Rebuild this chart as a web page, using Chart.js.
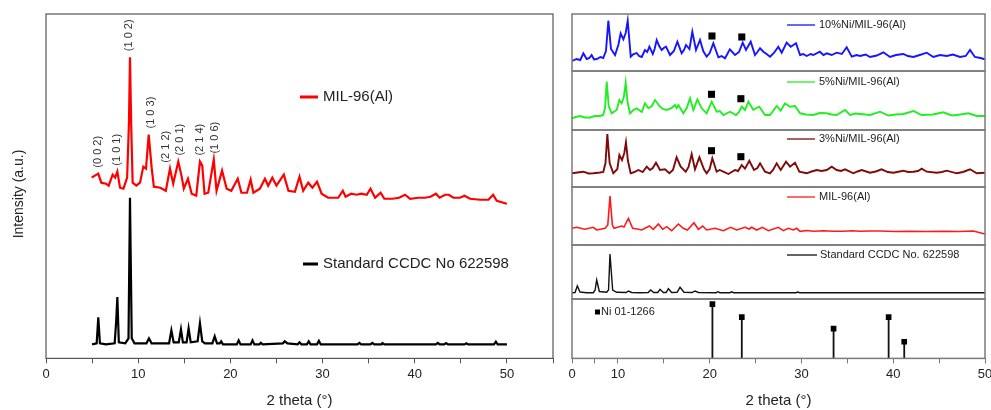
<!DOCTYPE html>
<html>
<head>
<meta charset="utf-8">
<script src="https://cdn.jsdelivr.net/npm/chart.js@4.4.1/dist/chart.umd.min.js"></script>
<style>
  html, body { margin: 0; padding: 0; background: #fff; overflow: hidden; width: 991px; height: 410px; }
  canvas { position: absolute; }
</style>
</head>
<body>
<canvas id="left-chart" width="560" height="410" style="left:0;top:0"></canvas>
<canvas id="panel-10ni" width="440" height="59" style="left:560px;top:13px"></canvas>
<canvas id="panel-5ni" width="440" height="61" style="left:560px;top:70px"></canvas>
<canvas id="panel-3ni" width="440" height="59" style="left:560px;top:129px"></canvas>
<canvas id="panel-mil" width="440" height="60" style="left:560px;top:186px"></canvas>
<canvas id="panel-ccdc" width="440" height="56" style="left:560px;top:244px"></canvas>
<canvas id="panel-ni" width="440" height="112" style="left:560px;top:298px"></canvas>
<script>
// ---- left panel: MIL-96(Al) vs simulated pattern, [2theta, intensity] ----
const mil96Pattern = [
  [4.95,180],[5.3,182],[5.67,184],[6.0,175],[6.5,174],[6.8,172],[7.23,183],[7.5,180],[7.74,186],
  [8.03,170],[8.4,169],[8.8,180],[9.0,235],[9.11,300],[9.25,230],[9.4,175],[9.8,172],[10.2,175],
  [10.56,191],[10.85,189],[11.14,223],[11.46,190],[11.7,171],[12.4,170],[13.0,167],[13.45,189],
  [13.8,174],[14.35,196],[14.7,182],[14.95,169],[15.4,179],[15.8,164],[16.3,162],[16.7,196],
  [16.95,192],[17.2,164],[17.6,165],[18.2,198],[18.5,167],[19.1,187],[19.6,169],[20.1,167],
  [20.8,179],[21.2,165],[21.8,165],[22.2,178],[22.5,165],[23.2,169],[23.75,179],[24.1,172],
  [24.55,180],[25.0,172],[25.8,183],[26.3,167],[27.0,166],[27.5,181],[27.9,167],[28.45,175],
  [28.9,170],[29.4,176],[29.9,164],[30.6,160],[31.7,160],[32.2,167],[32.5,161],[33.1,164],
  [33.7,163],[34.2,164],[34.8,163],[35.2,169],[35.7,160],[36.3,165],[36.7,159],[37.6,159],
  [38.3,160],[38.95,163],[39.5,159],[40.4,160],[41.1,160],[41.7,161],[42.3,164],[42.7,160],
  [43.3,163],[43.7,163],[44.2,160],[44.9,160],[45.4,162],[46.0,159],[47.1,158],[48.0,158],
  [48.5,163],[48.9,157],[50.0,154]
];
const ccdcPattern = [
  [5.0,14],[5.5,15],[5.67,41],[5.85,15],[6.5,14],[7.45,15],[7.62,38],[7.74,61],[7.9,16],[8.6,15],
  [8.95,20],[9.11,160],[9.3,20],[9.6,15],[10.9,15],[11.17,20],[11.45,15],[13.35,15],[13.6,28],
  [13.85,16],[14.4,16],[14.64,29],[14.85,16],[15.25,16],[15.47,30],[15.7,16],[16.45,17],[16.7,35],
  [16.95,17],[17.25,15],[18.05,15],[18.3,22],[18.55,15],[18.85,15],[19.0,17],[19.2,14],[20.7,14],
  [20.9,18],[21.1,14],[22.2,14],[22.4,18],[22.6,14],[23.15,14],[23.3,15.5],[23.5,14],[25.7,15],
  [25.9,17],[26.2,15],[27.3,14],[27.5,16],[27.7,14],[28.3,14],[28.5,17],[28.7,14],[29.4,14],
  [29.6,17.5],[29.8,14],[33.8,14],[34.0,15.5],[34.2,14],[35.2,14],[35.4,15.5],[35.6,14],
  [36.4,14],[36.5,15.3],[36.7,14],[42.3,14],[42.5,15.5],[42.7,14],[43.2,14],[43.4,15.3],
  [43.6,14],[45.4,14],[45.6,15],[45.8,14],[48.6,14],[48.8,16.7],[49.0,14],[50.0,14]
];
const hklLabels = ['(0 0 2)', '(1 0 1)', '(1 0 2)', '(1 0 3)', '(2 1 2)', '(2 0 1)', '(2 1 4)', '(1 0 6)'];
const hklTheta = [5.6, 7.67, 9.05, 11.4, 13.0, 14.5, 16.7, 18.3];
const leftTickStep = 5;

// ---- right panel series ----
const ni10Pattern = [
  [5.0,10],[5.5,12],[5.9,11],[6.24,17.7],[6.6,12],[6.9,13],[7.14,16],[7.4,11.5],[7.7,12],[8.1,14],
  [8.4,13],[8.7,20],[8.96,50.3],[9.25,22],[9.69,16],[10.05,26],[10.3,37.7],[10.6,31.7],[10.85,38],
  [11.07,50.3],[11.4,14.3],[11.7,17],[12.05,18],[12.3,15],[12.6,14],[12.95,21],[13.2,19],[13.43,24.3],
  [13.8,17],[14.0,22],[14.23,31],[14.5,25],[14.77,21],[15.0,23],[15.24,24.3],[15.68,16],[16.1,20],
  [16.48,29.3],[16.95,17.7],[17.2,21],[17.42,26],[17.8,22],[18.11,39.3],[18.51,21],[18.95,31],
  [19.3,20],[19.67,14.3],[20.0,18],[20.4,27.7],[20.95,13.7],[21.3,15],[21.67,12.7],[22.2,21.7],
  [22.76,16],[23.2,19],[23.6,28.3],[23.96,21],[24.47,29.3],[24.94,16],[25.2,19],[25.49,22.7],
  [25.85,19.3],[26.2,17],[26.58,14.3],[27.0,18],[27.48,24.3],[27.85,18.3],[28.39,28.3],[28.83,24.3],
  [29.41,27.7],[29.85,16],[30.2,17],[30.57,15],[31.0,17],[31.3,16],[32.0,19.3],[32.4,16],[32.75,17.7],
  [33.3,16],[33.84,18.3],[34.4,17],[34.93,23.7],[35.48,14.3],[36.0,16],[36.4,15],[37.0,16.5],
  [37.47,14],[38.2,15.5],[38.93,18.7],[39.65,14],[40.3,16],[41.1,17],[41.6,15],[42.2,14],[42.9,16],
  [43.65,18.3],[44.37,14],[45.1,16],[45.83,15],[46.5,16.5],[47.28,14],[47.9,15],[48.37,21],[48.9,14],
  [49.5,13],[50.0,11.7]
];
const ni5Pattern = [
  [5.0,11.7],[5.4,13],[5.87,14],[6.4,12.5],[6.96,12.5],[7.5,14],[8.05,14],[8.4,15],[8.6,22],
  [8.78,48.3],[9.0,24],[9.32,16.7],[9.87,20],[10.16,30],[10.41,26.7],[10.65,33],[10.85,47.3],
  [11.05,28],[11.32,16.7],[11.7,20],[12.05,21.7],[12.6,18],[12.95,26.7],[13.32,21.7],[13.7,24],
  [14.04,30],[14.59,23.3],[14.9,21],[15.32,20],[15.86,22],[16.22,25],[16.4,22],[16.59,25],
  [17.13,16.7],[17.5,22],[17.86,31.7],[18.22,20],[18.66,30.7],[19.13,21.7],[19.67,16.7],[20.22,28.3],
  [20.76,18.3],[21.1,19],[21.49,15],[22.22,18.3],[22.87,15],[23.2,18],[23.49,23.3],[23.85,20],
  [24.22,28.3],[24.76,20],[25.1,22],[25.41,23.3],[26.03,15],[26.58,15],[26.9,19],[27.3,24],
  [27.74,19.3],[28.21,26.7],[28.76,23.3],[29.3,24],[29.85,16.7],[30.5,15.5],[31.3,15],[32.0,17],
  [32.75,16.7],[33.3,15.5],[33.84,15],[34.75,20],[35.3,15],[35.9,16.5],[36.4,16],[37.5,15],
  [38.56,18.3],[39.47,14.5],[40.3,15.5],[41.1,16],[42.2,19],[43.1,15],[44.3,15.5],[45.46,17.7],
  [46.37,14.5],[47.3,15.5],[48.19,16.7],[49.1,14],[50.0,14]
];
const ni3Pattern = [
  [5.0,13.7],[5.6,14.5],[6.24,15.3],[6.8,13.5],[7.32,13.7],[8.05,14.5],[8.41,15],[8.65,24],
  [8.85,53],[9.1,24],[9.5,13.7],[9.94,18],[10.16,32],[10.45,27],[10.7,34],[10.88,44.7],[11.1,26],
  [11.39,13.7],[11.8,15],[12.23,17],[12.7,15],[13.14,20.3],[13.5,17],[13.8,19],[14.15,24.3],
  [14.59,17],[15.13,17.7],[15.61,13.7],[16.0,17],[16.4,29.7],[16.84,20.3],[17.39,15.3],[17.7,20],
  [18.04,33],[18.4,17.7],[18.88,29.7],[19.38,17.7],[19.67,13.7],[20.0,18],[20.29,28.7],[20.76,15.3],
  [21.1,17],[21.49,15.3],[22.04,13],[22.76,17],[23.1,16],[23.49,22],[23.85,18.3],[24.32,26.3],
  [24.83,17],[25.2,19],[25.49,23.7],[26.03,15.3],[26.58,13.7],[26.9,17],[27.3,23.7],[27.74,17],
  [28.32,25.3],[28.76,20.3],[29.3,24.3],[29.77,15.3],[30.57,13.7],[31.1,15.5],[31.66,17],[32.2,16],
  [32.75,17],[33.3,20.3],[33.84,17],[34.3,16],[34.75,17.7],[35.66,13.7],[36.1,15.5],[36.57,17],
  [37.47,14.3],[38.1,15.5],[38.74,17.7],[39.4,15],[40.02,14.3],[41.1,16.3],[41.6,15],[42.2,15.3],
  [42.7,16],[43.1,18.3],[43.65,15.3],[44.74,14.3],[45.3,15],[45.83,16.3],[46.92,13.7],[47.6,15],
  [48.37,17.7],[49.1,13.7],[50.0,14.3]
];
const milPattern = [
  [5.0,16.7],[5.5,17.7],[6.4,15.7],[7.32,17.7],[7.69,15],[8.6,16.7],[8.9,20],[9.14,49],[9.4,20],
  [9.58,16.7],[10.41,19],[10.67,18],[11.14,26.7],[11.61,16.7],[12.1,16],[12.6,15],[13.43,19],
  [13.86,15.7],[14.41,21],[14.88,15.7],[15.32,18.3],[15.86,14.3],[16.59,21],[17.13,16.7],
  [17.57,15],[18.29,22.3],[18.77,15.7],[19.24,19],[19.67,15],[20.58,16.7],[21.49,14.3],[22.29,17.7],
  [22.94,15],[23.85,17.7],[24.3,16],[24.58,17.7],[25.12,15],[25.74,17.7],[26.4,14.3],[27.48,17.7],
  [28.03,14.3],[28.57,16.7],[29.12,15],[29.48,16.7],[29.85,13.7],[30.6,14.5],[31.3,13.7],
  [32.39,14.3],[33.5,13.7],[34.57,13.7],[35.5,14.3],[36.4,13.7],[37.5,14],[38.56,14],[40.2,13.5],
  [41.83,13.7],[43.6,13.5],[45.46,13.7],[47.1,13.5],[48.73,14],[50.0,11]
];
const ccdcShortPattern = [
  [5.0,6.3],[5.33,6.5],[5.58,13],[5.87,7],[6.6,6.3],[7.32,6.3],[7.52,9],[7.69,19],[7.98,7.5],
  [8.78,6.7],[8.98,9],[9.14,45],[9.43,9],[9.87,6.7],[10.9,6.5],[11.14,8],[11.5,6.5],[12.4,6.3],
  [13.3,6.5],[13.57,9],[13.9,6.5],[14.35,6.5],[14.59,9.7],[14.95,6.5],[15.25,6.5],[15.5,10.3],
  [15.86,6.5],[16.45,6.7],[16.77,11.7],[17.2,6.7],[18.1,6.5],[18.4,8],[18.77,6.5],[20.7,6.3],
  [20.9,7.3],[21.1,6.3],[22.2,6.3],[22.4,7.2],[22.6,6.3],[29.4,6.3],[29.6,7],[29.8,6.3],[50.0,6.3]
];
const ni10Squares = [[20.25,35],[23.5,34]];
const ni5Squares = [[20.2,35.7],[23.4,31.3]];
const ni3Squares = [[20.2,36.3],[23.4,30.3]];
const niRefPeaks = [[20.3,53],[23.5,40.3],[33.5,29],[39.5,40.3],[41.2,16.3]];
const rightTickValues = [5, 7.5, 10, 15, 20, 25, 30, 35, 40, 45, 50];
const rightTickLabels = ['0', '', '10', '', '20', '', '30', '', '40', '', '50'];

const FONT = 'Arial, "Liberation Sans", sans-serif';
Chart.defaults.font.family = FONT;
Chart.defaults.animation = false;

function toPoints(pairs) {
  return pairs.map(p => ({ x: p[0], y: p[1] }));
}

// box around the plotting area
const framePlugin = {
  id: 'frame',
  afterDraw(chart, args, opts) {
    const a = chart.chartArea;
    const ctx = chart.ctx;
    ctx.save();
    ctx.strokeStyle = opts.color || '#666';
    ctx.lineWidth = opts.width || 1;
    ctx.strokeRect(a.left, a.top, a.right - a.left, a.bottom - a.top);
    ctx.restore();
  }
};

// inline legend keys (short line or square + label)
const keyPlugin = {
  id: 'keys',
  afterDraw(chart, args, opts) {
    const ctx = chart.ctx;
    const a = chart.chartArea;
    (opts.items || []).forEach(item => {
      const ds = chart.data.datasets[item.dataset];
      const x = a.left + item.dx;
      const y = a.top + item.dy;
      ctx.save();
      if (item.square) {
        ctx.fillStyle = '#000';
        ctx.fillRect(x, y - item.square / 2, item.square, item.square);
      } else {
        ctx.strokeStyle = ds.borderColor;
        ctx.lineWidth = item.lineWidth || 1.5;
        ctx.beginPath();
        ctx.moveTo(x, y);
        ctx.lineTo(x + item.len, y);
        ctx.stroke();
      }
      ctx.fillStyle = '#222';
      ctx.font = item.fontSize + 'px ' + FONT;
      ctx.textBaseline = 'middle';
      ctx.fillText(ds.label, x + (item.square || item.len) + item.gap, y);
      ctx.restore();
    });
  }
};

// Miller indices written vertically above the MIL-96(Al) reflections
const hklPlugin = {
  id: 'hkl',
  afterDatasetsDraw(chart, args, opts) {
    if (!opts.labels) return;
    const ctx = chart.ctx;
    const xs = chart.scales.x, ys = chart.scales.y;
    const pts = chart.data.datasets[opts.dataset].data;
    ctx.save();
    ctx.fillStyle = '#333';
    ctx.font = opts.fontSize + 'px ' + FONT;
    ctx.textBaseline = 'middle';
    opts.labels.forEach((txt, i) => {
      const t = opts.positions[i];
      let top = 0;
      pts.forEach(p => { if (Math.abs(p.x - t) < 0.5 && p.y > top) top = p.y; });
      const px = xs.getPixelForValue(t);
      const py = ys.getPixelForValue(top) - opts.gap;
      ctx.save();
      ctx.translate(px, py);
      ctx.rotate(-Math.PI / 2);
      ctx.fillText(txt, 0, 0);
      ctx.restore();
    });
    ctx.restore();
  }
};

// ---------- left panel ----------
new Chart(document.getElementById('left-chart'), {
  type: 'line',
  data: {
    datasets: [
      { label: 'MIL-96(Al)', data: toPoints(mil96Pattern), borderColor: '#ff0000', borderWidth: 2.2 },
      { label: 'Standard CCDC No 622598', data: toPoints(ccdcPattern), borderColor: '#000000', borderWidth: 2.2 }
    ]
  },
  options: {
    responsive: false,
    layout: { autoPadding: false, padding: { left: 46, top: 14, right: 7, bottom: 0 } },
    elements: { point: { radius: 0 }, line: { tension: 0 } },
    scales: {
      x: {
        type: 'linear', min: 0, max: 55,
        afterBuildTicks: axis => {
          const ticks = [];
          for (let v = 0; v <= 55; v += leftTickStep) ticks.push({ value: v });
          axis.ticks = ticks;
        },
        ticks: { autoSkip: false, maxRotation: 0, padding: 3, color: '#222', font: { size: 13 },
          callback: v => (v % 10 === 0 ? String(v) : '') },
        grid: { drawOnChartArea: false, tickLength: 5, color: '#555' },
        border: { color: '#555' },
        title: { display: true, text: '2 theta (°)', color: '#222', font: { size: 15 }, padding: { top: 7, bottom: 0 } }
      },
      y: { display: false, min: 0, max: 343 }
    },
    plugins: {
      legend: { display: false },
      tooltip: { enabled: false },
      frame: { color: '#555', width: 1.2 },
      keys: { items: [
        { dataset: 0, dx: 254, dy: 83, len: 18, gap: 5, lineWidth: 3, fontSize: 15 },
        { dataset: 1, dx: 257, dy: 250, len: 15, gap: 5, lineWidth: 3, fontSize: 15 }
      ] },
      hkl: { labels: hklLabels, positions: hklTheta, dataset: 0, gap: 6, fontSize: 11 }
    }
  },
  plugins: [framePlugin, keyPlugin, hklPlugin]
});

// y-axis title, centred on the left box
(function drawYTitle() {
  const ctx = document.getElementById('left-chart').getContext('2d');
  ctx.save();
  ctx.fillStyle = '#222';
  ctx.font = '14px ' + FONT;
  ctx.textAlign = 'center';
  ctx.textBaseline = 'middle';
  ctx.translate(19, 194);
  ctx.rotate(-Math.PI / 2);
  ctx.fillText('Intensity (a.u.)', 0, 0);
  ctx.restore();
})();

// ---------- right stacked panels ----------
const rightX = withAxis => ({
  type: 'linear', min: 5, max: 50, display: withAxis,
  afterBuildTicks: axis => { axis.ticks = rightTickValues.map(v => ({ value: v })); },
  ticks: { autoSkip: false, maxRotation: 0, padding: 3, color: '#222', font: { size: 13 },
    callback: (v, i) => rightTickLabels[i] },
  grid: { drawOnChartArea: false, tickLength: 5, color: '#777' },
  border: { color: '#777' },
  title: { display: true, text: '2 theta (°)', color: '#222', font: { size: 15 }, padding: { top: 7, bottom: 0 } }
});

function makePanel(id, series, opts) {
  const datasets = [{
    label: opts.label, data: toPoints(series), borderColor: opts.color, borderWidth: opts.width
  }];
  if (opts.squares) {
    datasets.push({ label: 'Ni', data: toPoints(opts.squares), showLine: false,
      pointStyle: 'rect', pointRadius: 5, backgroundColor: '#000', borderColor: '#000', borderWidth: 0 });
  }
  return new Chart(document.getElementById(id), {
    type: 'line',
    data: { datasets: datasets },
    options: {
      responsive: false,
      layout: { autoPadding: false, padding: { left: 12, right: 15, top: 1, bottom: 1 } },
      elements: { point: { radius: 0 }, line: { tension: 0 } },
      scales: { x: rightX(false), y: { display: false, min: 0, max: opts.ymax } },
      plugins: {
        legend: { display: false },
        tooltip: { enabled: false },
        frame: { color: '#7a7a7a', width: 1.5 },
        keys: { items: [opts.key] }
      }
    },
    plugins: [framePlugin, keyPlugin]
  });
}

const lineKey = dy => ({ dataset: 0, dx: 215, dy: dy, len: 28, gap: 4, lineWidth: 1.3, fontSize: 11 });

makePanel('panel-10ni', ni10Pattern, { label: '10%Ni/MIL-96(Al)', color: '#1515ff', width: 1.9, ymax: 57, squares: ni10Squares, key: lineKey(11) });
makePanel('panel-5ni', ni5Pattern, { label: '5%Ni/MIL-96(Al)', color: '#22ee22', width: 1.9, ymax: 59, squares: ni5Squares, key: lineKey(11) });
makePanel('panel-3ni', ni3Pattern, { label: '3%Ni/MIL-96(Al)', color: '#800a0a', width: 1.9, ymax: 57, squares: ni3Squares, key: lineKey(9) });
makePanel('panel-mil', milPattern, { label: 'MIL-96(Al)', color: '#ff1a1a', width: 1.6, ymax: 58, key: lineKey(10) });
makePanel('panel-ccdc', ccdcShortPattern, { label: 'Standard CCDC No. 622598', color: '#111', width: 1.4, ymax: 54,
  key: { dataset: 0, dx: 215, dy: 10, len: 30, gap: 3, lineWidth: 1.3, fontSize: 11 } });

// Ni reference: vertical sticks with a square on top
const niSticks = [];
niRefPeaks.forEach(p => {
  niSticks.push({ x: p[0], y: 0 }, { x: p[0], y: p[1] }, { x: p[0], y: null });
});
new Chart(document.getElementById('panel-ni'), {
  type: 'line',
  data: { datasets: [{
    label: 'Ni 01-1266', data: niSticks, borderColor: '#111', borderWidth: 1.8, spanGaps: false,
    pointStyle: 'rect', backgroundColor: '#000',
    pointRadius: c => (c.raw && c.raw.y > 0 ? 4 : 0), pointBorderWidth: 0
  }] },
  options: {
    responsive: false,
    layout: { autoPadding: false, padding: { left: 12, right: 15, top: 1, bottom: 0 } },
    elements: { line: { tension: 0 } },
    scales: { x: rightX(true), y: { display: false, min: 0, max: 58 } },
    plugins: {
      legend: { display: false },
      tooltip: { enabled: false },
      frame: { color: '#7a7a7a', width: 1.5 },
      keys: { items: [{ dataset: 0, dx: 23, dy: 13, square: 5, gap: 1, fontSize: 11 }] }
    }
  },
  plugins: [framePlugin, keyPlugin]
});
</script>
</body>
</html>
